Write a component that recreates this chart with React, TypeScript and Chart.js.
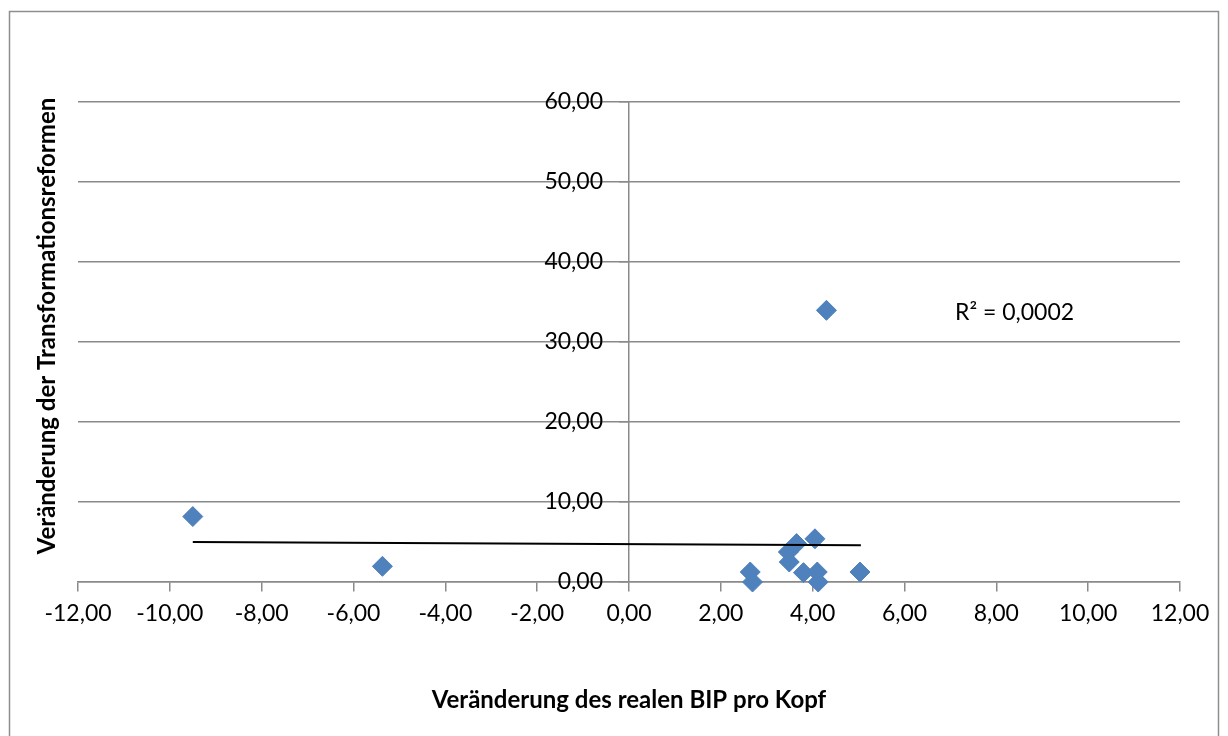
import React, { useEffect, useRef } from 'react';
import { Chart, registerables } from 'chart.js';

Chart.register(...registerables);

// Scatter values
const xValues = [-9.5, -5.37, 2.64, 2.69, 3.47, 3.49, 3.65, 3.8, 4.05, 4.1, 4.12, 4.3, 5.03];
const yValues = [8.18, 1.96, 1.25, 0.0, 3.75, 2.5, 4.8, 1.17, 5.4, 1.25, 0.0, 33.96, 1.25];

// Linear trendline endpoints as drawn in the reference
const trendX = [-9.5, 5.05];
const trendY = [5.0, 4.6];

const xRange = [-12, 12];
const xStep = 2;
const yRange = [0, 60];
const yStep = 10;

const xTitle = 'Veränderung des realen BIP pro Kopf';
const yTitle = 'Veränderung der Transformationsreformen';
const rSquaredLabel = 'R² = 0,0002';

const GRID = '#8a8a8a';
const BLUE = '#4F81BD';
const FONT = 'Lato, "Open Sans", sans-serif';

const fmt = (v: number | string) => {
  const n = Number(v);
  return (Math.abs(n) < 1e-9 ? 0 : n).toFixed(2).replace('.', ',');
};

const decorPlugin = {
  id: 'decor',
  beforeDraw(chart: any) {
    const ctx = chart.ctx;
    ctx.save();
    ctx.fillStyle = '#ffffff';
    ctx.fillRect(0, 0, chart.width, chart.height);
    ctx.strokeStyle = '#8e8e8e';
    ctx.lineWidth = 1.5;
    ctx.strokeRect(9.5, 11.5, 1209, 760);
    ctx.restore();
  },
  afterDraw(chart: any) {
    const ctx = chart.ctx;
    const area = chart.chartArea;
    ctx.save();
    ctx.fillStyle = '#000000';
    ctx.font = `bold 24px ${FONT}`;
    ctx.textAlign = 'center';
    ctx.textBaseline = 'alphabetic';
    ctx.fillText(xTitle, (area.left + area.right) / 2, 708);
    ctx.save();
    ctx.translate(55, 326);
    ctx.rotate(-Math.PI / 2);
    ctx.fillText(yTitle, 0, 0);
    ctx.restore();
    ctx.font = `23px ${FONT}`;
    ctx.textAlign = 'left';
    ctx.fillText(rSquaredLabel, 955, 320);
    ctx.restore();
  },
};

export default function App() {
  const ref = useRef<HTMLCanvasElement | null>(null);

  useEffect(() => {
    if (!ref.current) return;
    const points = xValues.map((x, i) => ({ x, y: yValues[i] }));
    const trend = trendX.map((x, i) => ({ x, y: trendY[i] }));
    const chart = new Chart(ref.current, {
      type: 'scatter',
      data: {
        datasets: [
          {
            type: 'line',
            label: 'Trend',
            data: trend,
            borderColor: '#000000',
            borderWidth: 2,
            pointRadius: 0,
            fill: false,
            order: 0,
            clip: false,
          } as any,
          {
            label: 'Werte',
            data: points,
            pointStyle: 'rectRot',
            pointRadius: 10,
            pointBackgroundColor: BLUE,
            pointBorderColor: BLUE,
            pointBorderWidth: 1,
            order: 1,
            clip: false,
          } as any,
        ],
      },
      options: {
        responsive: false,
        animation: false,
        layout: { padding: { left: 78, right: 48, top: 102, bottom: 154 } },
        plugins: {
          legend: { display: false },
          tooltip: { enabled: false },
          title: { display: false },
        },
        scales: {
          x: {
            type: 'linear',
            position: { y: 0 } as any,
            min: xRange[0],
            max: xRange[1],
            ticks: {
              stepSize: xStep,
              callback: (v: any) => fmt(v),
              color: '#000000',
              font: { family: FONT, size: 23 },
              padding: 9,
              maxRotation: 0,
              autoSkip: false,
            },
            grid: {
              drawOnChartArea: false,
              drawTicks: true,
              tickLength: 9,
              color: GRID,
              lineWidth: 1.5,
            },
            border: { display: true, color: GRID, width: 1.5 },
          },
          y: {
            type: 'linear',
            position: 'center',
            min: yRange[0],
            max: yRange[1],
            ticks: {
              stepSize: yStep,
              callback: (v: any) => fmt(v),
              color: '#000000',
              font: { family: FONT, size: 23 },
              padding: 17,
              autoSkip: false,
            },
            grid: {
              drawOnChartArea: true,
              drawTicks: true,
              tickLength: 9,
              color: GRID,
              lineWidth: 1.5,
            },
            border: { display: true, color: GRID, width: 1.5 },
          },
        },
      },
      plugins: [decorPlugin],
    });
    return () => chart.destroy();
  }, []);

  return (
    <div style={{ position: 'absolute', left: 0, top: 0, width: 1228, height: 736 }}>
      <canvas ref={ref} width={1228} height={736} style={{ display: 'block' }} />
    </div>
  );
}
